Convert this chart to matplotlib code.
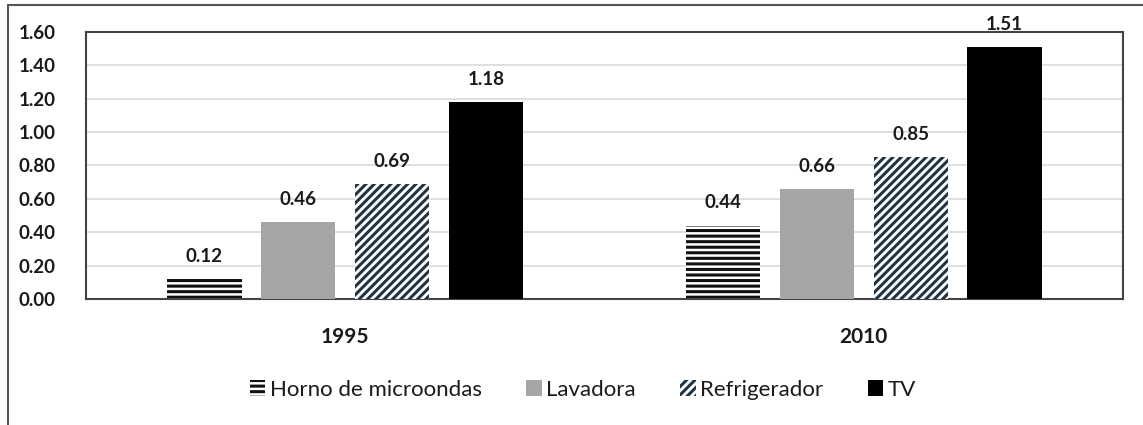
import matplotlib
matplotlib.use("Agg")
import matplotlib.pyplot as plt
import numpy as np
from matplotlib.patches import Rectangle

plt.rcParams['font.family'] = ['Lato', 'DejaVu Sans']
plt.rcParams['hatch.linewidth'] = 2.2

years = ["1995", "2010"]
series = ["Horno de microondas", "Lavadora", "Refrigerador", "TV"]
values = {
    "Horno de microondas": [0.12, 0.44],
    "Lavadora": [0.46, 0.66],
    "Refrigerador": [0.69, 0.85],
    "TV": [1.18, 1.51],
}
yticks = [0.0, 0.2, 0.4, 0.6, 0.8, 1.0, 1.2, 1.4, 1.6]

styles = {
    "Horno de microondas": dict(facecolor="white", edgecolor="#111111", hatch="---"),
    "Lavadora": dict(facecolor="#a5a5a5", edgecolor="#a5a5a5", hatch=None),
    "Refrigerador": dict(facecolor="white", edgecolor="#203445", hatch="////"),
    "TV": dict(facecolor="black", edgecolor="black", hatch=None),
}

fig = plt.figure(figsize=(11.43, 4.25), dpi=100)
ax = fig.add_axes([86 / 1143, 1 - 299 / 425, (1123 - 86) / 1143, (299 - 32) / 425])

x = np.arange(len(years))
width = 0.143
step = 0.181
offsets = (np.arange(len(series)) - 1.5) * step

handles = []
for i, name in enumerate(series):
    st = styles[name]
    bars = ax.bar(x + offsets[i], values[name], width, facecolor=st["facecolor"],
                  edgecolor=st["edgecolor"], hatch=st["hatch"], linewidth=0,
                  label=name, zorder=3)
    for b, v in zip(bars, values[name]):
        ax.text(b.get_x() + b.get_width() / 2, v + 0.085, f"{v:.2f}",
                ha="center", va="bottom", fontsize=13.5, fontweight="bold",
                color="#1a1a1a", zorder=4, clip_on=False)
    handles.append(bars[0])

ax.set_xlim(-0.5, 1.5)
ax.set_ylim(0, 1.6)
ax.set_yticks(yticks)
ax.set_yticklabels([f"{t:.2f}" for t in yticks], fontsize=13.5, fontweight="bold",
                   color="#1a1a1a")
ax.set_xticks(x)
ax.set_xticklabels(years, fontsize=15, fontweight="bold", color="#1a1a1a")
ax.tick_params(axis="both", length=0)
ax.tick_params(axis="y", pad=22)
ax.tick_params(axis="x", pad=20)
ax.yaxis.grid(True, color="#d9d9d9", linewidth=1.2, zorder=0)
ax.set_axisbelow(True)
for s in ax.spines.values():
    s.set_color("#444444")
    s.set_linewidth(1.5)

leg = fig.legend(handles, series, loc="center", bbox_to_anchor=(0.51, 1 - 390 / 425),
                 ncol=4, frameon=False, fontsize=16, handlelength=0.7,
                 handleheight=0.7, handletextpad=0.2, columnspacing=2.0)
for t in leg.get_texts():
    t.set_color("#1a1a1a")

# outer frame around the chart area
fig.add_artist(Rectangle((8 / 1143, -0.05), 1.2, 1 - 5 / 425 + 0.05,
                         transform=fig.transFigure, fill=False,
                         edgecolor="#555555", linewidth=1.5))

fig.savefig("out.png", dpi=100)
